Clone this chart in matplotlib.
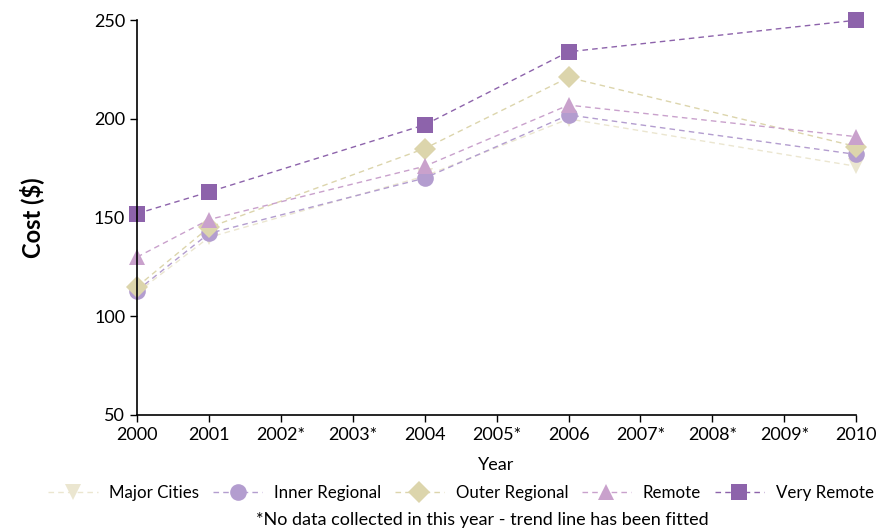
import matplotlib
matplotlib.use("Agg")
import matplotlib.pyplot as plt

plt.rcParams["font.family"] = ["Lato", "DejaVu Sans"]

years = [2000, 2001, 2004, 2006, 2010]
tick_years = list(range(2000, 2011))
tick_labels = ["2000", "2001", "2002*", "2003*", "2004", "2005*", "2006",
               "2007*", "2008*", "2009*", "2010"]

major_cities = [112, 140, 171, 200, 176]
inner_regional = [113, 142, 170, 202, 182]
outer_regional = [115, 145, 185, 221, 186]
remote = [130, 149, 176, 207, 191]
very_remote = [152, 163, 197, 234, 250]

series = [
    ("Major Cities", major_cities, "v", "#ebe6d0"),
    ("Inner Regional", inner_regional, "o", "#b39dcf"),
    ("Outer Regional", outer_regional, "D", "#dcd5ac"),
    ("Remote", remote, "^", "#c9a1cc"),
    ("Very Remote", very_remote, "s", "#8d63ab"),
]

fig = plt.figure(figsize=(8.9, 5.32), dpi=100)
ax = fig.add_axes([0.154, 0.22, 0.808, 0.742])

for name, vals, mk, col in series:
    ms = 11 if mk == "D" else 12
    ax.plot(years, vals, linestyle=(0, (4, 3)), linewidth=1.0, color=col,
            marker=mk, markersize=ms, markeredgewidth=0, label=name)

ax.set_xlim(2000, 2010)
ax.set_ylim(50, 250)
ax.set_xticks(tick_years)
ax.set_xticklabels(tick_labels)
ax.set_yticks([50, 100, 150, 200, 250])
ax.tick_params(labelsize=13, direction="out", length=5, width=1)
ax.spines["top"].set_visible(False)
ax.spines["right"].set_visible(False)
for s in ("left", "bottom"):
    ax.spines[s].set_linewidth(1.2)
for line in ax.lines:
    line.set_clip_on(False)

ax.set_xlabel("Year", fontsize=13, labelpad=10)
ax.set_ylabel("Cost ($)", fontsize=17, fontweight="bold", labelpad=36)

fig.legend(loc="center", bbox_to_anchor=(0.518, 0.073), ncol=5, frameon=False,
           fontsize=12.2, handlelength=2.9, columnspacing=0.8, handletextpad=0.7)

fig.text(0.542, 0.022, "*No data collected in this year - trend line has been fitted",
         ha="center", va="center", fontsize=13)

fig.savefig("out.png", dpi=100)
